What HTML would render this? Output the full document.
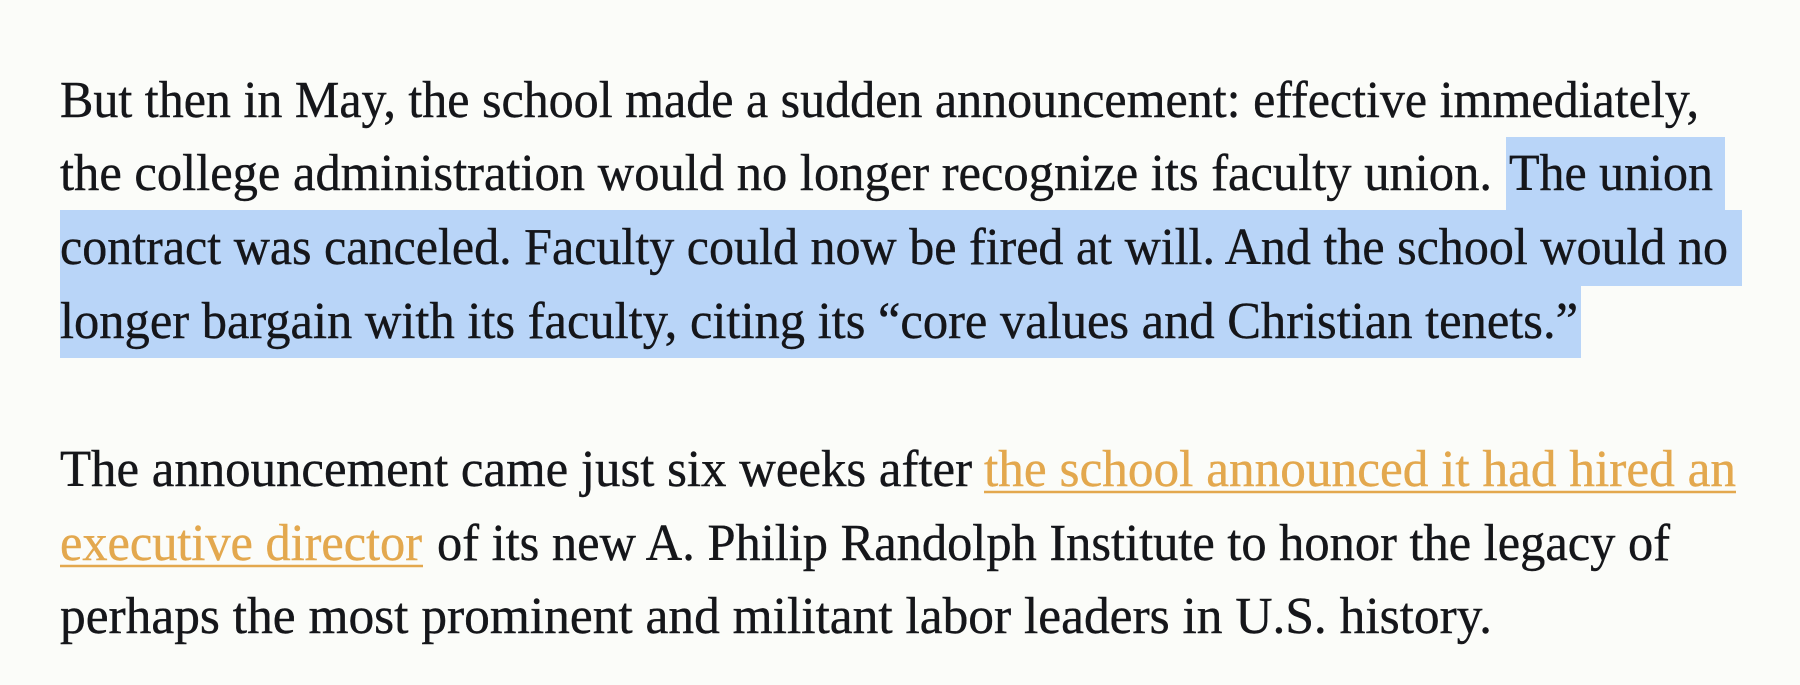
<!DOCTYPE html>
<html><head><meta charset="utf-8"><style>
html,body{margin:0;padding:0;background:#fbfcf9;}
svg{display:block}
text{font-family:"Liberation Serif",serif;font-size:52px;fill:#15161a;stroke:#15161a;stroke-width:0.4;}
.link{fill:#e3a84e;stroke:#e3a84e;}
</style></head><body>
<svg width="1800" height="685" viewBox="0 0 1800 685">
<rect x="0" y="0" width="1800" height="685" fill="#fbfcf9"/>
<g fill="#b9d5f8">
<rect x="1506" y="137" width="219" height="74"/>
<rect x="60" y="210" width="1682" height="76"/>
<rect x="60" y="285" width="1521" height="73"/>
</g>
<g>
<text x="60" y="117" textLength="1639" lengthAdjust="spacingAndGlyphs">But then in May, the school made a sudden announcement: effective immediately,</text>
<text x="60" y="190" textLength="1432" lengthAdjust="spacingAndGlyphs">the college administration would no longer recognize its faculty union.</text>
<text x="1509" y="190" textLength="204" lengthAdjust="spacingAndGlyphs">The union</text>
<text x="60" y="264" textLength="1668" lengthAdjust="spacingAndGlyphs">contract was canceled. Faculty could now be fired at will. And the school would no</text>
<text x="60" y="338" textLength="1518" lengthAdjust="spacingAndGlyphs">longer bargain with its faculty, citing its “core values and Christian tenets.”</text>
</g>
<g>
<text x="60" y="486" textLength="912" lengthAdjust="spacingAndGlyphs">The announcement came just six weeks after</text>
<text class="link" x="984" y="486" textLength="752" lengthAdjust="spacingAndGlyphs">the school announced it had hired an</text>
<line x1="984" y1="492" x2="1736" y2="492" stroke="#e3a84e" stroke-width="2.5"/>
<text class="link" x="60" y="560" textLength="362" lengthAdjust="spacingAndGlyphs">executive director</text>
<line x1="60" y1="566" x2="423" y2="566" stroke="#e3a84e" stroke-width="2.5"/>
<text x="437" y="560" textLength="1233" lengthAdjust="spacingAndGlyphs">of its new A. Philip Randolph Institute to honor the legacy of</text>
<text x="60" y="633" textLength="1432" lengthAdjust="spacingAndGlyphs">perhaps the most prominent and militant labor leaders in U.S. history.</text>
</g>
</svg>
</body></html>
